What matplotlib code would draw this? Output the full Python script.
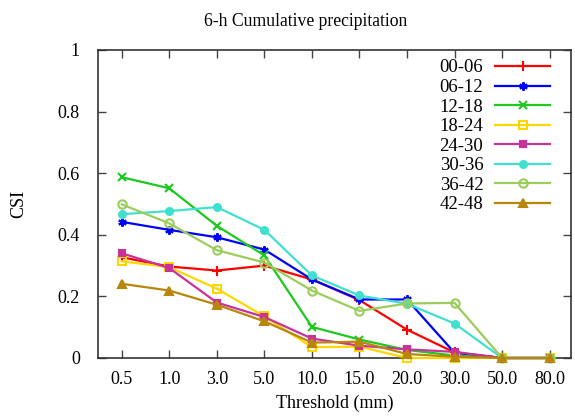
import matplotlib
matplotlib.use("Agg")
import matplotlib.pyplot as plt
import numpy as np

thresholds = ["0.5", "1.0", "3.0", "5.0", "10.0", "15.0", "20.0", "30.0", "50.0", "80.0"]
labels = ["00-06", "06-12", "12-18", "18-24", "24-30", "30-36", "36-42", "42-48"]

csi_00_06 = [0.327, 0.297, 0.284, 0.300, 0.255, 0.188, 0.092, 0.018, 0.0, 0.0]
csi_06_12 = [0.442, 0.416, 0.392, 0.352, 0.255, 0.190, 0.190, 0.017, 0.0, 0.0]
csi_12_18 = [0.587, 0.551, 0.429, 0.333, 0.101, 0.060, 0.026, 0.008, 0.0, 0.0]
csi_18_24 = [0.314, 0.295, 0.225, 0.135, 0.035, 0.037, 0.0, 0.0, 0.0, 0.0]
csi_24_30 = [0.340, 0.292, 0.180, 0.133, 0.063, 0.040, 0.028, 0.020, 0.0, 0.0]
csi_30_36 = [0.467, 0.477, 0.490, 0.416, 0.268, 0.203, 0.176, 0.112, 0.0, 0.0]
csi_36_42 = [0.499, 0.437, 0.350, 0.310, 0.219, 0.153, 0.177, 0.179, 0.0, 0.0]
csi_42_48 = [0.241, 0.219, 0.173, 0.119, 0.050, 0.053, 0.013, 0.004, 0.0, 0.0]

series = [csi_00_06, csi_06_12, csi_12_18, csi_18_24, csi_24_30, csi_30_36, csi_36_42, csi_42_48]
colors = ["#ff0000", "#0000ff", "#1ec81e", "#ffd700", "#c8329b", "#40e0d0", "#9acd5a", "#b8860b"]
asterisk = (6, 2, 0)
markers = ["+", asterisk, "x", "s", "s", "o", "o", "^"]
fills = ["full", "full", "full", "none", "full", "full", "none", "full"]
msizes = [7, 6, 6, 5.5, 5, 5, 6, 6]

plt.rcParams['font.family'] = ['Liberation Serif']
fig = plt.figure(figsize=(5.75, 4.16), dpi=100)
ax = fig.add_axes([98/575, 1-358/416, (571-98)/575, (358-50)/416])

x = np.arange(len(thresholds))
for vals, lab, c, m, f, ms in zip(series, labels, colors, markers, fills, msizes):
    ax.plot(x, vals, color=c, lw=1.6, marker=m, fillstyle=f, ms=ms,
            mew=1.5, label=lab, clip_on=False, zorder=3)

ax.set_xlim(-0.5, 9.45)
ax.set_ylim(0, 1)
ax.set_xticks(x)
ax.set_xticklabels(thresholds)
ax.set_yticks([0, 0.2, 0.4, 0.6, 0.8, 1.0])
ax.set_yticklabels(["0", "0.2", "0.4", "0.6", "0.8", "1"])
ax.tick_params(direction="in", length=6, width=1, top=True, right=True,
               labelsize=13, colors="#444444", labelcolor="black")
ax.tick_params(axis="y", pad=13)
ax.tick_params(axis="x", pad=9)
for s in ax.spines.values():
    s.set_linewidth(1.2)
    s.set_color("#333333")

ax.set_xlabel("Threshold (mm)", fontsize=13, labelpad=5)
ax.set_ylabel("CSI", fontsize=13, labelpad=22)
fig.text(306/575, 1-22/416, "6-h Cumulative precipitation", ha="center", va="center", fontsize=12.7)

leg = ax.legend(loc="upper right", frameon=False, markerfirst=False, fontsize=13.5,
                handlelength=2.9, labelspacing=0.13, borderaxespad=0.1,
                handletextpad=0.65, bbox_to_anchor=(0.975, 1.0))
for t in leg.get_texts():
    t.set_ha("right")

fig.savefig("out.png", dpi=100)
